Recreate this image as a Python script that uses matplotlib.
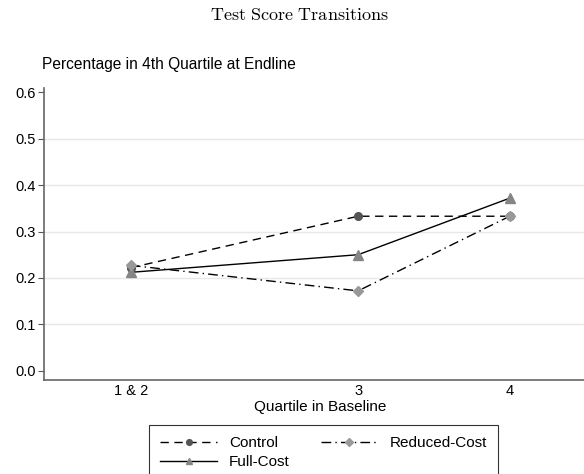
import matplotlib
matplotlib.use('Agg')
import matplotlib.pyplot as plt

plt.rcParams['font.family'] = ['Liberation Sans', 'DejaVu Sans']
plt.rcParams['mathtext.fontset'] = 'cm'

# baseline quartile groups (1 & 2 pooled), placed on a numeric scale
quartiles = [1.5, 3, 4]
quartileLabels = ['1 & 2', '3', '4']

control = [0.222, 0.333, 0.333]
reducedCost = [0.227, 0.172, 0.333]
fullCost = [0.212, 0.250, 0.372]

fig = plt.figure(figsize=(5.84, 4.74), dpi=100)
ax = fig.add_axes([0.0753, 0.1983, 0.9247, 0.617])

ax.plot(quartiles, control, color='black', linestyle=(0, (6, 4)), linewidth=1.0,
        marker='o', markersize=5.5, markerfacecolor='#555555', markeredgecolor='#555555',
        label='Control')
ax.plot(quartiles, fullCost, color='black', linestyle='-', linewidth=1.0,
        marker='^', markersize=6.5, markerfacecolor='#858585', markeredgecolor='#858585',
        label='Full-Cost')
ax.plot(quartiles, reducedCost, color='black', linestyle=(0, (7, 3, 1, 3)), linewidth=1.0,
        marker='D', markersize=5, markerfacecolor='#999999', markeredgecolor='#999999',
        label='Reduced-Cost')

ax.set_xlim(0.927, 4.49)
ax.set_ylim(-0.0203, 0.6106)
ax.set_xticks(quartiles)
ax.set_xticklabels(quartileLabels)
ax.set_yticks([0.0, 0.1, 0.2, 0.3, 0.4, 0.5, 0.6])
ax.set_yticklabels(['0.0', '0.1', '0.2', '0.3', '0.4', '0.5', '0.6'])
ax.tick_params(axis='x', length=0, pad=3, labelsize=10.5)
ax.tick_params(axis='y', length=4, width=0.8, color='#555555', pad=2, labelsize=10.5)

for y in [0.1, 0.2, 0.3, 0.4, 0.5]:
    ax.axhline(y, color='#e8e8e8', linewidth=1.0, zorder=0)

for side in ['top', 'right']:
    ax.spines[side].set_visible(False)
for side in ['left', 'bottom']:
    ax.spines[side].set_color('#666666')
    ax.spines[side].set_linewidth(1.2)

fig.text(299 / 584, 1 - 15 / 474, r'$\mathrm{Test\ Score\ Transitions}$',
         ha='center', va='center', fontsize=13)
fig.text(42 / 584, 1 - 64 / 474, 'Percentage in 4th Quartile at Endline',
         ha='left', va='center', fontsize=11.2)
fig.text(320 / 584, 1 - 407 / 474, 'Quartile in Baseline',
         ha='center', va='center', fontsize=11)

leg = fig.legend(ncol=2, loc='upper left', bbox_to_anchor=(149 / 584, 1 - 425 / 474),
                 fontsize=11, frameon=True, fancybox=False, edgecolor='black',
                 handlelength=3.7, handletextpad=0.8, columnspacing=2.0,
                 borderpad=0.75, labelspacing=0.32, borderaxespad=0,
                 markerscale=0.75)
leg.get_frame().set_linewidth(0.8)

fig.savefig('out.png', dpi=100)
